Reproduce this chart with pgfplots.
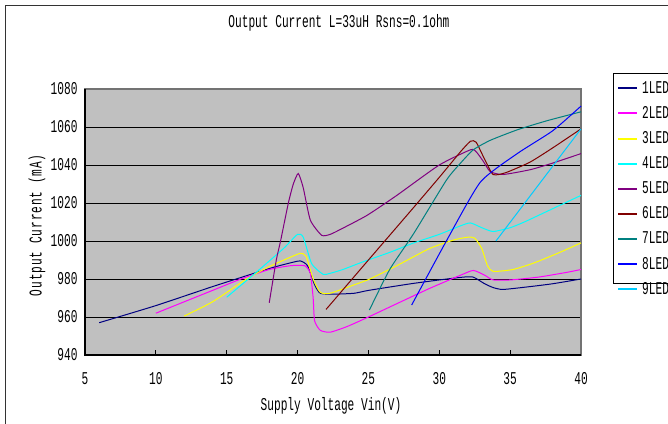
\documentclass[border=0pt]{standalone}
\usepackage{pgfplots}
\pgfplotsset{compat=1.18}
\usepackage{fontspec}
\setmainfont[FakeStretch=0.62]{Liberation Mono}
\definecolor{ledA}{HTML}{000080}
\definecolor{ledB}{HTML}{FF00FF}
\definecolor{ledC}{HTML}{FFFF00}
\definecolor{ledD}{HTML}{00FFFF}
\definecolor{ledE}{HTML}{800080}
\definecolor{ledF}{HTML}{800000}
\definecolor{ledG}{HTML}{008080}
\definecolor{ledH}{HTML}{0000FF}
\definecolor{ledI}{HTML}{00CCFF}
\definecolor{bg}{HTML}{C0C0C0}
\begin{document}
\begin{tikzpicture}
\useasboundingbox (0,0) rectangle (668pt,423pt);
\clip (0,0) rectangle (668pt,423pt);
\fill[white] (0,0) rectangle (668pt,423pt);
\draw[line width=1pt, black!80] (5pt,-2pt) -- (5pt,417pt) -- (670pt,417pt);
\draw[line width=0.9pt, black] (613pt,140pt) rectangle (700pt,350pt);
\begin{axis}[
  at={(85pt,68pt)}, anchor=south west,
  scale only axis, width=496pt, height=266pt,
  xmin=5, xmax=40, ymin=940, ymax=1080,
  xtick={5,10,...,40}, ytick={940,960,...,1080},
  xtick pos=bottom, ytick pos=left,
  tick align=inside, major tick length=5pt,
  tick style={black, line width=0.8pt},
  axis background/.style={fill=bg},
  axis line style={draw=black!55, line width=1.3pt},
  ymajorgrids, grid style={black, line width=0.9pt},
  font=\fontsize{18}{20}\selectfont,
  /pgf/number format/assume math mode=true,
  /pgf/number format/set thousands separator={},
  xticklabel style={anchor=center, yshift=-24pt},
  yticklabel style={anchor=east, xshift=-4pt},
  title={Output Current L=33uH Rsns=0.1ohm},
  title style={at={(0.512,1.2256)}, anchor=center},
  xlabel={Supply Voltage Vin(V)},
  xlabel style={at={(0.496,-0.192)}, anchor=center},
  ylabel={\addfontfeature{LetterSpace=5}Output Current (mA)},
  ylabel style={at={(-0.0968,0.488)}, anchor=center, rotate=0},
  legend style={at={(1.0645,1.060)}, anchor=north west, draw=none, fill=none,
    inner xsep=4pt, inner ysep=6.5pt, row sep=7.6pt, column sep=2pt,
    font=\fontsize{18}{20}\selectfont},
  legend cell align=left,
  legend image code/.code={\draw[#1, line width=2pt] (0pt,0pt) -- (19pt,0pt);},
  every axis plot/.append style={line width=1pt, smooth, tension=0.35},
  clip=false,
]
\addplot[color=ledA] coordinates {(6,957)(10,966)(14,976)(18,985.5)(19.5,988.5)(20.2,989.5)(20.7,987)(21.2,977)(21.6,972.5)(22.5,972)(24,972.5)(25,974)(28,977.5)(30,979.5)(31.7,981)(32.4,981)(33.2,977.5)(33.8,975.5)(34.5,974.5)(36.4,976)(38,977.5)(40,980)};
\addlegendentry{1LED}
\addplot[color=ledB] coordinates {(10,962)(12,968)(14,974)(16,980)(18,985)(19.5,987)(20.5,987)(20.9,983)(21.1,970)(21.2,958)(21.6,953)(22.3,952)(23.5,955)(25,960)(27,967)(29.3,975)(31.5,982)(32.4,984.5)(33.2,982)(33.8,979.5)(35,979.5)(37,981)(39,983.5)(40,985)};
\addlegendentry{2LED}
\addplot[color=ledC] coordinates {(12,960.5)(14,968)(16.4,980)(18,986.5)(19.5,991.5)(20.2,993.5)(20.6,992)(21.1,980)(21.6,973)(22.3,972.5)(24.2,977.5)(25.1,980)(27,987)(29.3,996)(31,1000.5)(32,1002)(32.5,1001.5)(33,996)(33.4,987)(33.8,984)(35.2,985)(36.7,988.5)(38.5,994)(40,999)};
\addlegendentry{3LED}
\addplot[color=ledD] coordinates {(15,970.4)(17,983)(19,996)(20,1003.5)(20.4,1002)(21,988)(21.8,982.5)(22.3,983)(23.2,985)(24.6,989)(26.5,994)(28.2,999)(30,1003.5)(31.5,1008)(32.2,1009.5)(33,1007)(33.8,1005)(35,1007)(36,1010)(38,1017)(40,1024)};
\addlegendentry{4LED}
\addplot[color=ledE] coordinates {(18,967.5)(18.5,990)(18.8,1000)(19.35,1020)(19.7,1030)(20.05,1035.5)(20.4,1028)(20.9,1011)(21.7,1003)(22.3,1003.5)(23,1006)(24.9,1013.5)(27,1024)(30,1040)(32.2,1048)(32.6,1047)(33.1,1042)(33.6,1036.5)(34.5,1035)(36.4,1037.5)(38,1041)(40,1046)};
\addlegendentry{5LED}
\addplot[color=ledF] coordinates {(22,964)(22.3,966.5)(25,990)(28,1016)(30,1033.5)(31.5,1047)(32.2,1052.5)(32.6,1052)(33.2,1043)(33.8,1035)(34.7,1036)(36.4,1041.5)(38,1049)(40,1059)};
\addlegendentry{6LED}
\addplot[color=ledG] coordinates {(25.07,963.7)(26.5,985)(28.2,1004)(30.5,1032)(31.5,1041)(32.4,1048)(33.6,1053)(35.5,1058.5)(37.6,1063.3)(40,1068)};
\addlegendentry{7LED}
\addplot[color=ledH] coordinates {(28.05,966.3)(30.5,1000)(32.9,1031)(35.5,1046)(38,1058)(40,1071)};
\addlegendentry{8LED}
\addplot[color=ledI] coordinates {(34,1000)(40,1059)};
\addlegendentry{9LED}
\draw[black, line width=1.3pt] (rel axis cs:0,1) -- (rel axis cs:0,0) -- (rel axis cs:1,0);
\end{axis}
\end{tikzpicture}
\end{document}
